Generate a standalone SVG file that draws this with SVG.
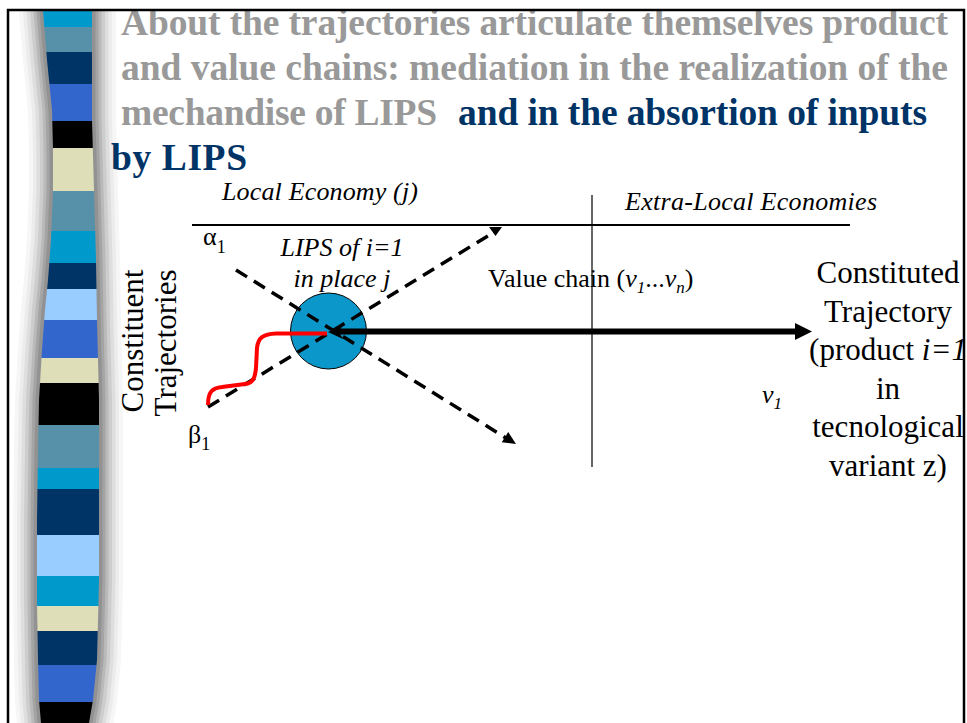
<svg xmlns="http://www.w3.org/2000/svg" width="967" height="723" viewBox="0 0 967 723">
<style>
.title{font-family:"Liberation Serif","Times New Roman",serif;font-weight:bold;font-size:37.5px;}
.gray{fill:#999999;}
.navy{fill:#003366;}
.lbl{font-family:"Liberation Serif","Times New Roman",serif;font-size:26px;fill:#000;}
.it{font-style:italic;}
.big{font-family:"Liberation Serif","Times New Roman",serif;font-size:31px;fill:#000;text-anchor:middle;}
.dash{stroke:#000;stroke-width:3.5;stroke-dasharray:13 8;fill:none;}
.band{fill:none;stroke-linejoin:round;}
</style>
<defs>
<path id="barshape" d="M43,11 L47,60 L52,110 L53,150 L53,190 L51,240 L48,280 L45,310 L42,350 L39,400 L38,450 L37,520 L37,600 L38,660 L39,700 L41,723 L89,723 L93,700 L97,660 L98,620 L99,580 L99,450 L99,400 L98,360 L97,320 L96,260 L94,190 L92,120 L92,11 Z"/>
<clipPath id="inner"><rect x="9" y="11" width="954" height="712"/></clipPath>
<clipPath id="barclip"><use href="#barshape"/></clipPath>
<clipPath id="circ"><circle cx="328.5" cy="331" r="38"/></clipPath>
</defs>
<rect width="967" height="723" fill="#fff"/>
<g id="sidebar" clip-path="url(#inner)">
<use href="#barshape" class="band" stroke="#f6f6f6" stroke-width="48"/>
<use href="#barshape" class="band" stroke="#ececec" stroke-width="40"/>
<use href="#barshape" class="band" stroke="#dedede" stroke-width="33"/>
<use href="#barshape" class="band" stroke="#cdcdcd" stroke-width="26"/>
<use href="#barshape" class="band" stroke="#b9b9b9" stroke-width="19"/>
<use href="#barshape" class="band" stroke="#a4a4a4" stroke-width="13"/>
<use href="#barshape" class="band" stroke="#929292" stroke-width="7"/>
<g clip-path="url(#barclip)">
<rect x="30" y="0" width="80" height="27" fill="#0099CC"/>
<rect x="30" y="27" width="80" height="25" fill="#5791A9"/>
<rect x="30" y="52" width="80" height="32" fill="#003366"/>
<rect x="30" y="84" width="80" height="37" fill="#3366CC"/>
<rect x="30" y="121" width="80" height="27" fill="#000000"/>
<rect x="30" y="148" width="80" height="43" fill="#DEDEB8"/>
<rect x="30" y="191" width="80" height="40" fill="#5791A9"/>
<rect x="30" y="231" width="80" height="32" fill="#0099CC"/>
<rect x="30" y="263" width="80" height="26" fill="#003366"/>
<rect x="30" y="289" width="80" height="31" fill="#99CCFF"/>
<rect x="30" y="320" width="80" height="38" fill="#3366CC"/>
<rect x="30" y="358" width="80" height="25" fill="#DEDEB8"/>
<rect x="30" y="383" width="80" height="42" fill="#000000"/>
<rect x="30" y="425" width="80" height="43" fill="#5791A9"/>
<rect x="30" y="468" width="80" height="21" fill="#0099CC"/>
<rect x="30" y="489" width="80" height="46" fill="#003366"/>
<rect x="30" y="535" width="80" height="41" fill="#99CCFF"/>
<rect x="30" y="576" width="80" height="30" fill="#0099CC"/>
<rect x="30" y="606" width="80" height="25" fill="#DEDEB8"/>
<rect x="30" y="631" width="80" height="34" fill="#003366"/>
<rect x="30" y="665" width="80" height="37" fill="#3366CC"/>
<rect x="30" y="702" width="80" height="30" fill="#000000"/>
</g>
</g>
<g id="title" clip-path="url(#inner)">
<text class="title gray" x="121" y="35" textLength="827">About the trajectories articulate themselves product</text>
<text class="title gray" x="121" y="80" textLength="827">and value chains: mediation in the realization of the</text>
<text class="title gray" x="121" y="125" textLength="316">mechandise of LIPS</text>
<text class="title navy" x="458" y="125" textLength="469">and in the absortion of inputs</text>
<text class="title navy" x="111" y="170" textLength="136">by LIPS</text>
</g>
<g id="axes">
<line x1="192" y1="225" x2="850" y2="225" stroke="#000" stroke-width="2"/>
<line x1="592" y1="195" x2="592" y2="467" stroke="#000" stroke-width="1.2"/>
</g>
<g id="connectors">
<line class="dash" x1="236" y1="270" x2="506" y2="438"/>
<polygon points="516,444 501.8,442.2 508.2,432" fill="#000"/>
<line class="dash" x1="208" y1="407" x2="491" y2="234"/>
<polygon points="489,227 502,227 495.5,236" fill="#000"/>
</g>
<g id="lips-node">
<circle cx="328.5" cy="331" r="38" fill="#0B97C9" stroke="#000" stroke-width="1"/>
</g>
<g id="connectors-front">
<g clip-path="url(#circ)">
<line class="dash" x1="236" y1="270" x2="506" y2="438"/>
<line class="dash" x1="208" y1="407" x2="491" y2="234"/>
</g>
<path d="M208,405 C208,392 212,388 222,387 L245,384 C253,383 255,378 256,368 L257,348 C258,338 263,334 276,333.5 L327,333.5" fill="none" stroke="#FF0000" stroke-width="4"/>
<line x1="338" y1="331.5" x2="797" y2="331.5" stroke="#000" stroke-width="6"/>
<polygon points="795,323 812,331.5 795,340" fill="#000"/>
<polygon points="328,332 343,324 339,332 343,339" fill="#000"/>
</g>
<g id="labels">
<text class="lbl it" x="222" y="200" textLength="196">Local Economy (<tspan>j</tspan>)</text>
<text class="lbl it" x="625" y="210" textLength="252">Extra-Local Economies</text>
<text class="lbl" x="203" y="245">α<tspan font-size="18" dy="8">1</tspan></text>
<text class="lbl" x="188" y="443">β<tspan font-size="18" dy="7">1</tspan></text>
<text class="lbl it" x="342" y="256" text-anchor="middle">LIPS of i=1</text>
<text class="lbl it" x="342" y="287" text-anchor="middle">in place j</text>
<text class="lbl" x="488" y="287">Value chain (<tspan font-style="italic">v</tspan><tspan font-style="italic" font-size="17" dy="6">1</tspan><tspan dy="-6">...</tspan><tspan font-style="italic">v</tspan><tspan font-style="italic" font-size="17" dy="6">n</tspan><tspan dy="-6">)</tspan></text>
<text class="lbl it" x="762" y="403">v<tspan font-size="17" dy="6">1</tspan></text>
<text class="big" transform="translate(143,341) rotate(-90)" x="0" y="0">Constituent</text>
<text class="big" transform="translate(176,343) rotate(-90)" x="0" y="0">Trajectories</text>
<g clip-path="url(#inner)">
<text class="big" x="888" y="283">Constituted</text>
<text class="big" x="888" y="321.5">Trajectory</text>
<text class="big" x="888" y="360">(product <tspan font-style="italic">i=1</tspan></text>
<text class="big" x="888" y="398.5">in</text>
<text class="big" x="888" y="437">tecnological</text>
<text class="big" x="888" y="475.5">variant z)</text>
</g>
</g>
<g id="frame">
<path d="M8,730 L8,10 L964,10 L964,730" fill="none" stroke="#000" stroke-width="2.5"/>
</g>
</svg>
